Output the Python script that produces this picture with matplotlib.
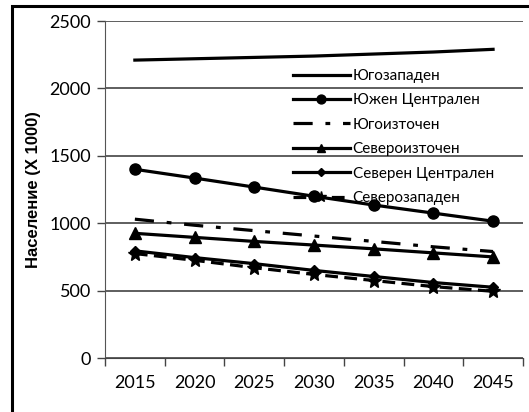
import matplotlib
matplotlib.use('Agg')
import matplotlib.pyplot as plt
from matplotlib.patches import Rectangle

years = ['2015', '2020', '2025', '2030', '2035', '2040', '2045']

yugozapaden = [2210, 2220, 2230, 2240, 2255, 2270, 2290]
yuzhen_centralen = [1400, 1335, 1268, 1200, 1135, 1075, 1015]
yugoiztochen = [1030, 985, 945, 905, 865, 825, 790]
severoiztochen = [925, 895, 865, 838, 810, 780, 750]
severen_centralen = [795, 745, 700, 650, 605, 560, 525]
severozapaden = [775, 725, 670, 620, 575, 530, 495]

plt.rcParams['font.family'] = ['Lato', 'DejaVu Sans']

fig = plt.figure(figsize=(5.29, 4.12), dpi=100)
ax = fig.add_axes([0.1985, 0.131, 0.79, 0.818])

# рамка около диаграмата (горе и вляво)
fig.patches.append(Rectangle((12 / 529, -0.01), 1.0, 1 - 6 / 412 + 0.01,
                             transform=fig.transFigure, fill=False,
                             edgecolor='black', linewidth=2.2))

x = list(range(len(years)))
lw = 2.3
ax.plot(x, yugozapaden, color='black', lw=lw, label='Югозападен', zorder=3)
ax.plot(x, yuzhen_centralen, color='black', lw=lw, marker='o', markersize=8,
        label='Южен Централен', zorder=3)
ax.plot(x, yugoiztochen, color='black', lw=lw, dashes=(6, 4, 1.5, 4),
        label='Югоизточен', zorder=3)
ax.plot(x, severoiztochen, color='black', lw=lw, marker='^', markersize=8,
        label='Североизточен', zorder=3)
ax.plot(x, severen_centralen, color='black', lw=lw, marker='D', markersize=5,
        label='Северен Централен', zorder=3)
ax.plot(x, severozapaden, color='black', lw=lw, dashes=(4, 2), marker='*',
        markersize=10, label='Северозападен', zorder=3)

ax.set_xlim(-0.5, len(years) - 0.5)
ax.set_ylim(0, 2500)
ax.set_yticks([0, 500, 1000, 1500, 2000, 2500])
ax.set_xticks(x)
ax.set_xticklabels(years)
ax.set_xticks([i - 0.5 for i in range(len(years) + 1)], minor=True)
ax.tick_params(axis='x', which='major', length=0, pad=12, labelsize=13)
ax.tick_params(axis='x', which='minor', length=6, color='#444444', width=1)
ax.tick_params(axis='y', length=6, color='#444444', width=1, pad=4, labelsize=13)

ax.grid(axis='y', color='#333333', linewidth=1.1, zorder=1)
ax.set_axisbelow(True)
for side in ['top', 'right']:
    ax.spines[side].set_visible(False)
ax.spines['left'].set_color('#555555')
ax.spines['bottom'].set_color('#444444')

ax.set_ylabel('Население (X 1000)', fontsize=12, fontweight='bold',
              family=['Liberation Sans', 'DejaVu Sans'], labelpad=6)

leg = ax.legend(loc='upper left', bbox_to_anchor=(293 / 529, 1 - 69 / 412),
                bbox_transform=fig.transFigure, frameon=False, fontsize=11,
                handlelength=3.7, handletextpad=0.2, labelspacing=0.68,
                borderpad=0, borderaxespad=0, markerscale=0.8)
leg.set_zorder(2)

fig.savefig('out.png', dpi=100)
